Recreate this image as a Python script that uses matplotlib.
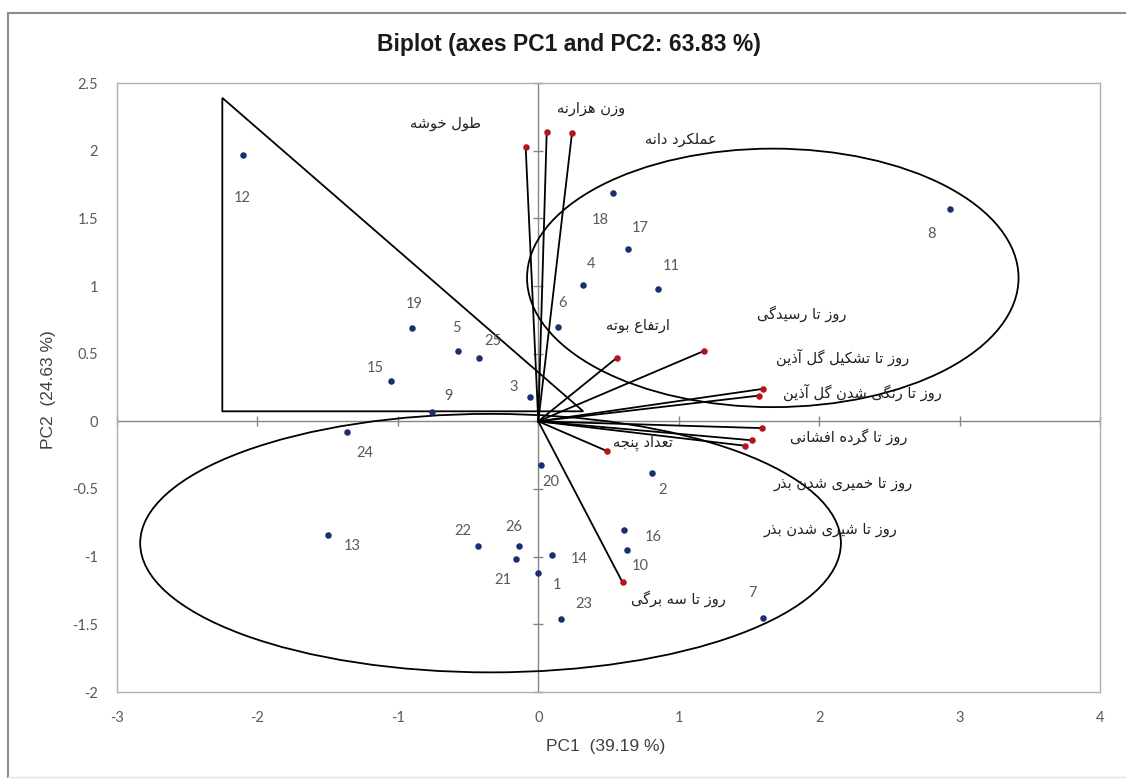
import matplotlib
matplotlib.use("Agg")
import matplotlib.pyplot as plt
from matplotlib.patches import Ellipse, Polygon
from matplotlib.lines import Line2D
import numpy as np

# ---------------- data ----------------
obs_labels = [str(i) for i in range(1, 27)]
obs_pc1 = [0.00, 0.81, -0.06, 0.32, -0.57, 0.14, 1.60, 2.93, -0.76, 0.63,
           0.85, -2.10, -1.50, 0.10, -1.05, 0.61, 0.64, 0.53, -0.90, 0.02,
           -0.16, -0.43, 0.16, -1.36, -0.42, -0.14]
obs_pc2 = [-1.12, -0.38, 0.18, 1.01, 0.52, 0.70, -1.45, 1.57, 0.07, -0.95,
           0.98, 1.97, -0.84, -0.99, 0.30, -0.80, 1.27, 1.69, 0.69, -0.32,
           -1.02, -0.92, -1.46, -0.08, 0.47, -0.92]

var_labels = ["طول خوشه", "وزن هزارنه", "عملکرد دانه", "ارتفاع بوته",
              "روز تا رسیدگی", "روز تا تشکیل گل آذین", "روز تا رنگی شدن گل آذین",
              "روز تا گرده افشانی", "روز تا خمیری شدن بذر", "روز تا شیری شدن بذر",
              "تعداد پنجه", "روز تا سه برگی"]
var_pc1 = [-0.09, 0.06, 0.24, 0.56, 1.18, 1.60, 1.57, 1.59, 1.52, 1.47, 0.49, 0.60]
var_pc2 = [2.03, 2.14, 2.13, 0.47, 0.52, 0.24, 0.19, -0.05, -0.14, -0.18, -0.22, -1.19]

# group outlines (data units)
ell_centers = [(1.67, 1.06), (-0.34, -0.90)]
ell_widths = [3.50, 4.99]
ell_heights = [1.91, 1.91]
tri_x = [-2.25, -2.25, 0.32]
tri_y = [2.39, 0.074, 0.074]

xticks = [-3, -2, -1, 0, 1, 2, 3, 4]
yticks = [-2, -1.5, -1, -0.5, 0, 0.5, 1, 1.5, 2, 2.5]

title = "Biplot (axes PC1 and PC2: 63.83 %)"
xlabel = "PC1  (39.19 %)"
ylabel = "PC2  (24.63 %)"

# label offsets in pixels (dx right, dy down)
obs_off = {1: (19, 12), 2: (11, 17), 3: (-16, -10), 4: (8, -21), 5: (-2, -23),
           6: (5, -24), 7: (-10, -25), 8: (-18, 25), 9: (17, -16), 10: (13, 16),
           11: (14, -23), 12: (-1, 43), 13: (25, 11), 14: (27, 4), 15: (-16, -13),
           16: (29, 7), 17: (12, -21), 18: (-12, 27), 19: (2, -24), 20: (10, 17),
           21: (-13, 21), 22: (-15, -15), 23: (23, -15), 24: (18, 21), 25: (14, -17),
           26: (-5, -19)}
var_off = [(-80, -23), (44, -23), (109, 6), (21, -32), (98, -37), (80, -31),
           (104, -3), (87, 9), (91, 43), (86, 84), (36, -8), (56, 16)]

# ---------------- simple Persian shaping ----------------
FORMS = {
    '\u0627': ('\uFE8D', '\uFE8E', None, None),
    '\u0622': ('\uFE81', '\uFE82', None, None),
    '\u0628': ('\uFE8F', '\uFE90', '\uFE91', '\uFE92'),
    '\u067E': ('\uFB56', '\uFB57', '\uFB58', '\uFB59'),
    '\u062A': ('\uFE95', '\uFE96', '\uFE97', '\uFE98'),
    '\u062C': ('\uFE9D', '\uFE9E', '\uFE9F', '\uFEA0'),
    '\u062E': ('\uFEA5', '\uFEA6', '\uFEA7', '\uFEA8'),
    '\u062F': ('\uFEA9', '\uFEAA', None, None),
    '\u0630': ('\uFEAB', '\uFEAC', None, None),
    '\u0631': ('\uFEAD', '\uFEAE', None, None),
    '\u0632': ('\uFEAF', '\uFEB0', None, None),
    '\u0633': ('\uFEB1', '\uFEB2', '\uFEB3', '\uFEB4'),
    '\u0634': ('\uFEB5', '\uFEB6', '\uFEB7', '\uFEB8'),
    '\u0637': ('\uFEC1', '\uFEC2', '\uFEC3', '\uFEC4'),
    '\u0639': ('\uFEC9', '\uFECA', '\uFECB', '\uFECC'),
    '\u0641': ('\uFED1', '\uFED2', '\uFED3', '\uFED4'),
    '\u0642': ('\uFED5', '\uFED6', '\uFED7', '\uFED8'),
    '\u06A9': ('\uFB8E', '\uFB8F', '\uFB90', '\uFB91'),
    '\u0643': ('\uFED9', '\uFEDA', '\uFEDB', '\uFEDC'),
    '\u06AF': ('\uFB92', '\uFB93', '\uFB94', '\uFB95'),
    '\u0644': ('\uFEDD', '\uFEDE', '\uFEDF', '\uFEE0'),
    '\u0645': ('\uFEE1', '\uFEE2', '\uFEE3', '\uFEE4'),
    '\u0646': ('\uFEE5', '\uFEE6', '\uFEE7', '\uFEE8'),
    '\u0647': ('\uFEE9', '\uFEEA', '\uFEEB', '\uFEEC'),
    '\u0648': ('\uFEED', '\uFEEE', None, None),
    '\u06CC': ('\uFBFC', '\uFBFD', '\uFBFE', '\uFBFF'),
    '\u064A': ('\uFEF1', '\uFEF2', '\uFEF3', '\uFEF4'),
}


def shape(s):
    out = []
    n = len(s)
    for i, c in enumerate(s):
        f = FORMS.get(c)
        if f is None:
            out.append(c)
            continue
        prev = s[i - 1] if i > 0 else ''
        nxt = s[i + 1] if i < n - 1 else ''
        pj = prev in FORMS and FORMS[prev][2] is not None
        nj = (nxt in FORMS) and f[2] is not None
        if pj and nj:
            out.append(f[3])
        elif pj:
            out.append(f[1])
        elif nj:
            out.append(f[2])
        else:
            out.append(f[0])
    return ''.join(reversed(out))


# ---------------- figure ----------------
W, H = 1126, 783
fig = plt.figure(figsize=(W / 100, H / 100), dpi=100)
fig.patch.set_facecolor('white')

# outer chart border
fig.add_artist(Line2D([8 / W, 8 / W], [1 - 13 / H, 1 - 777 / H], color='#8c8c8c', lw=1.5))
fig.add_artist(Line2D([8 / W, 1.01], [1 - 13 / H, 1 - 13 / H], color='#8c8c8c', lw=1.5))
fig.add_artist(Line2D([8 / W, 1.01], [1 - 777 / H, 1 - 777 / H], color='#e3e3e3', lw=1.0))

ax = fig.add_axes([117 / W, 1 - 692 / H, (1100 - 117) / W, (692 - 83) / H])
ax.set_xlim(-3, 4)
ax.set_ylim(-2, 2.5)
for sp in ax.spines.values():
    sp.set_color('#b0b0b0')
    sp.set_linewidth(1.0)
ax.set_xticks(xticks)
ax.set_yticks(yticks)
ax.set_xticklabels([f"{t:g}" for t in xticks])
ax.set_yticklabels([f"{t:g}" for t in yticks])
ax.tick_params(length=0, labelsize=10.5, colors='#595959', pad=0)
ax.tick_params(axis='x', pad=13.5)
ax.tick_params(axis='y', pad=13.5)
for lab in ax.get_xticklabels() + ax.get_yticklabels():
    lab.set_fontfamily('Lato')

# zero axes with cross ticks
ax.axhline(0, color='#868686', lw=1.0, zorder=1)
ax.axvline(0, color='#868686', lw=1.0, zorder=1)
ax.scatter(xticks, np.zeros(len(xticks)), marker='|', s=60, color='#868686', lw=1.0, zorder=1, clip_on=False)
ax.scatter(np.zeros(len(yticks)), yticks, marker='_', s=60, color='#868686', lw=1.0, zorder=1, clip_on=False)

# outlines
for c, w, h in zip(ell_centers, ell_widths, ell_heights):
    ax.add_patch(Ellipse(c, w, h, fill=False, edgecolor='black', lw=1.3, zorder=2))
ax.add_patch(Polygon(np.column_stack([tri_x, tri_y]), closed=True, fill=False,
                     edgecolor='black', lw=1.3, zorder=2))

# vectors
for x, y in zip(var_pc1, var_pc2):
    ax.plot([0, x], [0, y], color='black', lw=1.3, zorder=3)
ax.scatter(var_pc1, var_pc2, s=22, color='#b5141c', zorder=4, linewidths=0)

# observations
ax.scatter(obs_pc1, obs_pc2, s=22, color='#1c2f6e', zorder=4, linewidths=0)

for lab, x, y in zip(obs_labels, obs_pc1, obs_pc2):
    dx, dy = obs_off[int(lab)]
    ax.annotate(lab, (x, y), xytext=(dx, -dy), textcoords='offset pixels',
                ha='center', va='center', fontsize=10.5, color='#595959',
                fontfamily='Lato', zorder=5)

for lab, x, y, (dx, dy) in zip(var_labels, var_pc1, var_pc2, var_off):
    ax.annotate(shape(lab), (x, y), xytext=(dx, -dy), textcoords='offset pixels',
                ha='center', va='center', fontsize=10.5, color='#202020',
                fontfamily=['DejaVu Sans'], zorder=5)

fig.text(569 / W, 1 - 45 / H, title, ha='center', va='center', fontsize=16.5,
         fontweight='bold', fontfamily='Liberation Sans', color='#1a1a1a')
fig.text(606 / W, 1 - 746 / H, xlabel, ha='center', va='center', fontsize=12.5,
         fontfamily='Liberation Sans', color='#404040')
fig.text(48 / W, 1 - 390 / H, ylabel, ha='center', va='center', fontsize=12.5,
         rotation=90, fontfamily='Liberation Sans', color='#404040')

fig.savefig('out.png', dpi=100, facecolor='white')
